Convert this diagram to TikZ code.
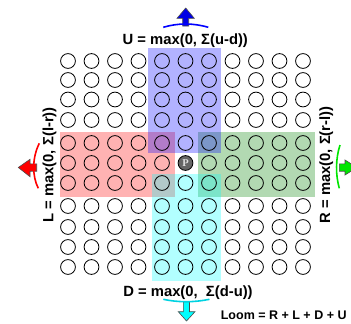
\documentclass[tikz,border=0pt]{standalone}
\usepackage{fontspec}
\setmainfont{Liberation Sans}
\newfontfamily\pfont{Liberation Serif}
\definecolor{cy}{RGB}{0,255,255}
\definecolor{cyarc}{RGB}{0,210,225}
\definecolor{gr}{RGB}{0,128,0}
\definecolor{brightgreen}{RGB}{0,230,0}
\begin{document}
\begin{tikzpicture}[x=1pt,y=-1pt,
  dot/.style={circle,draw=black,line width=0.8pt,minimum size=14.8pt,inner sep=0pt},
  region/.style={fill opacity=0.3,draw=none},
  lbl/.style={font=\fontsize{14.8}{16}\selectfont\bfseries,inner sep=0pt,anchor=base},
  blockarrow/.style={draw=black!70,line width=0.6pt,line join=miter},
  bow/.style={line width=1.6pt}]
\useasboundingbox (0,0) rectangle (351,324);
\clip (0,0) rectangle (351,324);
% shaded regions
\fill[region,red] (60,132) rectangle (175,197);
\fill[region,gr] (198,132) rectangle (315,197);
\fill[region,blue] (148,48) rectangle (221,153);
\fill[region,cy] (152,174) rectangle (221,281);
% grid of circles
\foreach \yy [count=\j] in {61,80,99.5,120,143,163,183,206,227,247,267} {
  \foreach \i in {0,...,10} {
    \pgfmathsetmacro\xx{68+23.5*\i}
    \ifnum\i=5 \ifnum\j=6 \else
      \node[dot] (c\i-\j) at (\xx,\yy) {};
    \fi\else
      \node[dot] (c\i-\j) at (\xx,\yy) {};
    \fi
  }
}
\node[dot,fill=black!60,text=black!12,font=\pfont\bfseries\fontsize{10.5}{10.5}\selectfont] (P) at (185.5,163) {P};
% labels
\node[lbl] (U) at (185.3,44) {U = max(0, Σ(u-d))};
\node[lbl] (D) at (188,296) {D = max(0, \ Σ(d-u))};
\node[lbl,rotate=90] (L) at (53.3,165) {L = max(0, Σ(l-r))};
\node[lbl,rotate=90] (R) at (330,165) {R = max(0, Σ(r-l))};
\node[lbl,font=\fontsize{12.5}{14}\selectfont\bfseries] (Loom) at (283.7,319) {Loom = R + L + D + U};
% arrows
\filldraw[blockarrow,fill=blue!90!black] (182.7,26) -- (182.7,18.3) -- (177,18.3) -- (185.7,8) -- (194.3,18.3) -- (188.7,18.3) -- (188.7,26) -- cycle;
\draw[bow,blue] (163.3,27.3) .. controls (178,22.9) and (193,22.9) .. (208.3,27.3);
\filldraw[blockarrow,fill=cy] (183.3,301.7) -- (183.3,311.7) -- (178.3,311.7) -- (186.5,321) -- (195,311.7) -- (189.5,311.7) -- (189.5,301.7) -- cycle;
\draw[bow,cyarc] (163.3,299.3) .. controls (178,302.5) and (194,302.5) .. (209.5,299.3);
\filldraw[blockarrow,fill=red] (36.7,163.8) -- (30,163.8) -- (30,159.3) -- (18.3,167.5) -- (30,176.7) -- (30,171.2) -- (36.7,171.2) -- cycle;
\draw[bow,red] (39.3,143.3) .. controls (32,158) and (32,176) .. (38.3,188.3);
\filldraw[blockarrow,fill=brightgreen] (339.3,163.8) -- (345,163.8) -- (345,160) -- (357,167.5) -- (345,175) -- (345,171.2) -- (339.3,171.2) -- cycle;
\draw[bow,brightgreen] (340,145) .. controls (335.5,159) and (335.5,175) .. (339.3,188.3);
\end{tikzpicture}
\end{document}
